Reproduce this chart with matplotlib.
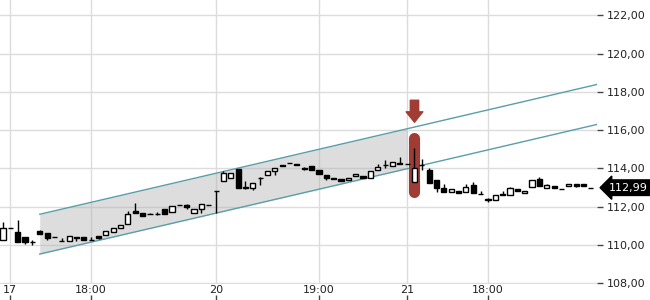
import numpy as np
import matplotlib.pyplot as plt

# OHLC values, one entry per bar
opens = [110.25, 110.89, 110.68, 110.40, 110.13, 110.72, 110.63, 110.39, 110.21, 110.19,
         110.42, 110.39, 110.28, 110.46, 110.54, 110.65, 110.89, 111.07, 111.76, 111.69,
         111.60, 111.62, 111.85, 111.73, 112.08, 112.08, 111.69, 111.85, 112.08, 112.81,
         113.33, 113.49, 113.96, 113.02, 112.98, 113.50, 113.64, 113.85, 114.16, 114.28,
         114.25, 114.02, 114.11, 113.90, 113.64, 113.52, 113.42, 113.38, 113.60, 113.60,
         113.52, 113.90, 114.17, 114.13, 114.28, 114.22, 113.29, 114.20, 113.90, 113.38,
         112.95, 112.74, 112.82, 112.77, 113.12, 112.65, 112.40, 112.34, 112.67, 112.63,
         112.90, 112.72, 113.03, 113.42, 112.95, 113.08, 112.90, 113.08, 113.20, 113.17,
         112.99]
highs = [111.19, 110.89, 111.29, 110.40, 110.25, 110.77, 110.63, 110.39, 110.34, 110.46,
         110.42, 110.39, 110.39, 110.46, 110.72, 110.86, 111.03, 111.76, 112.20, 111.69,
         111.69, 111.72, 111.85, 112.02, 112.08, 112.16, 111.90, 112.13, 112.08, 112.81,
         113.87, 113.75, 113.96, 113.35, 113.22, 113.54, 113.85, 114.01, 114.16, 114.28,
         114.25, 114.06, 114.11, 113.90, 113.64, 113.52, 113.42, 113.50, 113.69, 113.60,
         113.87, 114.25, 114.43, 114.31, 114.60, 114.22, 115.04, 114.51, 114.03, 113.38,
         113.17, 112.90, 112.82, 113.17, 113.29, 112.81, 112.44, 112.60, 112.84, 113.04,
         112.90, 112.82, 113.38, 113.55, 113.17, 113.08, 112.90, 113.20, 113.20, 113.17,
         112.99]
lows = [110.25, 110.89, 110.13, 110.04, 109.99, 110.56, 110.25, 110.39, 110.21, 110.19,
        110.21, 110.28, 110.28, 110.30, 110.54, 110.65, 110.89, 111.07, 111.69, 111.52,
        111.60, 111.57, 111.59, 111.73, 112.08, 111.90, 111.69, 111.69, 112.08, 111.69,
        113.33, 113.49, 112.98, 112.91, 112.86, 113.13, 113.64, 113.64, 114.10, 114.28,
        114.17, 113.90, 113.90, 113.73, 113.38, 113.42, 113.33, 113.38, 113.60, 113.52,
        113.52, 113.90, 114.01, 114.13, 114.22, 114.22, 113.29, 113.90, 113.24, 112.78,
        112.74, 112.74, 112.72, 112.77, 112.69, 112.65, 112.23, 112.34, 112.63, 112.63,
        112.81, 112.72, 113.03, 113.08, 112.95, 112.98, 112.90, 113.08, 113.00, 113.08,
        112.99]
closes = [110.89, 110.89, 110.13, 110.16, 110.13, 110.56, 110.34, 110.39, 110.21, 110.46,
          110.34, 110.28, 110.28, 110.34, 110.72, 110.86, 111.03, 111.64, 111.69, 111.52,
          111.60, 111.62, 111.59, 112.02, 112.08, 111.99, 111.90, 112.13, 112.08, 112.81,
          113.76, 113.75, 112.98, 112.96, 113.22, 113.50, 113.85, 114.01, 114.10, 114.28,
          114.17, 113.97, 113.90, 113.73, 113.47, 113.42, 113.33, 113.50, 113.69, 113.52,
          113.87, 114.08, 114.17, 114.31, 114.22, 114.22, 114.04, 114.20, 113.24, 112.95,
          112.74, 112.90, 112.72, 113.00, 112.69, 112.65, 112.35, 112.60, 112.63, 112.95,
          112.81, 112.82, 113.38, 113.08, 113.12, 112.98, 112.90, 113.20, 113.08, 113.08,
          112.99]

# x axis labels at bar indices
tick_idx = [1, 12, 29, 43, 55, 66]
tick_labels = ['17', '18:00', '20', '19:00', '21', '18:00']
y_ticks = [108, 110, 112, 114, 116, 118, 120, 122]

# trend channel: two parallel lines, shaded between the first two anchors
chan_x = [5, 55, 81]
chan_upper = [111.60, 116.07, 118.40]
chan_lower = [109.52, 113.98, 116.31]

signal_idx = 56          # highlighted bar with the arrow above it
signal_range = [112.76, 115.58]
arrow_top, arrow_tip = 117.56, 116.41
last_price = 112.99

grid_col = '#dcdcdc'
chan_col = '#5a9ea8'
red = '#a03c33'

fig = plt.figure(figsize=(6.5, 3), dpi=100)
ax = fig.add_axes([0, 0.053, 0.918, 0.947])

x = np.arange(len(opens))
o = np.array(opens)
c = np.array(closes)

# channel
xs = np.linspace(chan_x[0], chan_x[1], 50)
ax.fill_between(xs, np.interp(xs, chan_x, chan_lower), np.interp(xs, chan_x, chan_upper),
                color='#b4b4b4', alpha=0.45, lw=0, zorder=1)
ax.plot(chan_x, chan_upper, color=chan_col, lw=1, zorder=2)
ax.plot(chan_x, chan_lower, color=chan_col, lw=1, zorder=2)

# highlighted bar and arrow
ax.plot([signal_idx, signal_idx], signal_range, color=red, lw=8,
        solid_capstyle='round', zorder=3)
ax.annotate('', xy=(signal_idx, arrow_tip), xytext=(signal_idx, arrow_top),
            arrowprops=dict(arrowstyle='simple,head_length=0.75,head_width=1.2,tail_width=0.6',
                            color=red, shrinkA=0, shrinkB=0, mutation_scale=10), zorder=3)

# candles
ax.vlines(x, lows, highs, color='black', lw=1, zorder=4)
faces = np.where(c > o, 'white', 'black')
ax.bar(x, np.abs(c - o), bottom=np.minimum(o, c), width=0.7, color=faces,
       edgecolor='black', linewidth=1, zorder=5)

ax.set_xlim(-0.41, 80.8)
ax.set_ylim(107.95, 122.8)
ax.set_yticks(y_ticks)
ax.set_yticklabels([f'{v:.2f}'.replace('.', ',') for v in y_ticks])
ax.set_xticks(tick_idx)
ax.set_xticklabels(tick_labels)
ax.yaxis.tick_right()
ax.grid(True, color=grid_col, lw=1)
ax.set_axisbelow(True)
for s in ax.spines.values():
    s.set_visible(False)
ax.tick_params(axis='y', length=4, width=1, color='#444444', pad=3,
               labelsize=8, labelcolor='#222222')
ax.tick_params(axis='x', length=0, pad=1, labelsize=8, labelcolor='#222222')

# small x tick marks sit below the labels
sec = ax.secondary_xaxis(-0.04)
sec.set_xticks(tick_idx)
sec.set_xticklabels([])
sec.spines['bottom'].set_visible(False)
sec.tick_params(length=4, width=1, color='#444444')

# last price tag
ax.text(1.02, last_price, f'{last_price:.2f}'.replace('.', ','),
        transform=ax.get_yaxis_transform(), ha='left', va='center',
        fontsize=8, color='white', zorder=10,
        bbox=dict(boxstyle='larrow,pad=0.25', fc='black', ec='black'))

fig.savefig('out.png', dpi=100)
